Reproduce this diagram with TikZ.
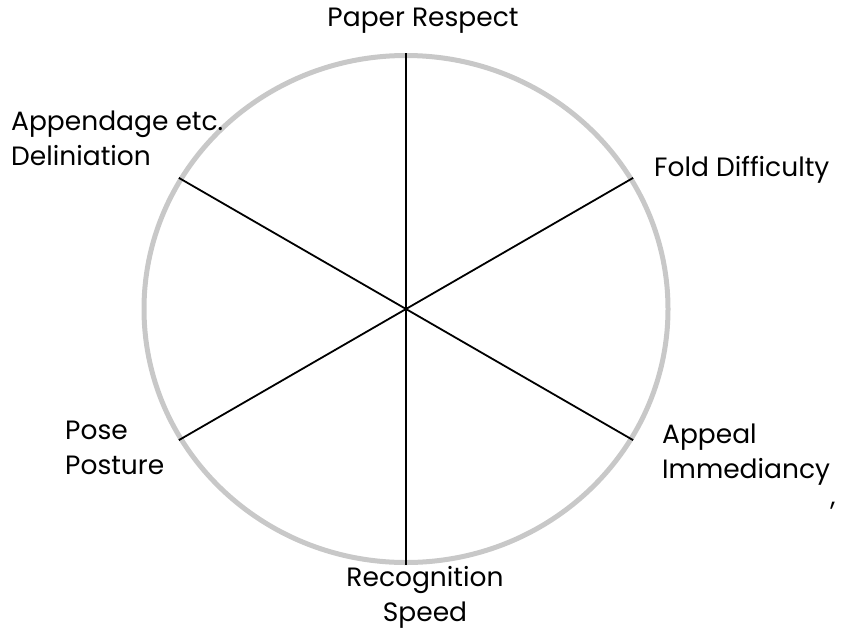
\documentclass[tikz,border=0pt]{standalone}
\usepackage{fontspec}
\setmainfont{Poppins}
\usepackage{xcolor}
\usetikzlibrary{positioning,shapes.geometric}
\definecolor{aro}{HTML}{C8C8C8}
\tikzset{
  roda/.style={ellipse, draw=aro, line width=5pt, minimum width=524pt, minimum height=507pt, inner sep=0pt},
  raio/.style={draw=black, line width=1.8pt},
  rotulo/.style={font=\fontsize{26.5}{35}\selectfont, inner sep=0pt, align=left},
}

\begin{document}
\begin{tikzpicture}[x=1pt, y=-1pt]
    \useasboundingbox (0,0) rectangle (846,630);
    \node[roda] (aro) at (406,309) {};
    \draw[raio] (aro.90) -- (aro.-90);
    \draw[raio] (aro.150) -- (aro.-30);
    \draw[raio] (aro.-150) -- (aro.30);
    \node[rotulo, anchor=center] (papel) at (423,21) {Paper Respect};
    \node[rotulo, anchor=west] (apendice) at (11,138) {Appendage etc.\\Deliniation};
    \node[rotulo, anchor=west] (dobra) at (654,170) {Fold Difficulty};
    \node[rotulo, anchor=west] (pose) at (65,448) {Pose\\Posture};
    \node[rotulo, anchor=west] (apelo) at (662,455) {Appeal\\Immediancy};
    \node[rotulo, align=center, anchor=center] (reconhece) at (425,597) {Recognition\\Speed};
    \node[rotulo, anchor=center] (virgula) at (833,506) {,};
  \end{tikzpicture}
\end{document}
